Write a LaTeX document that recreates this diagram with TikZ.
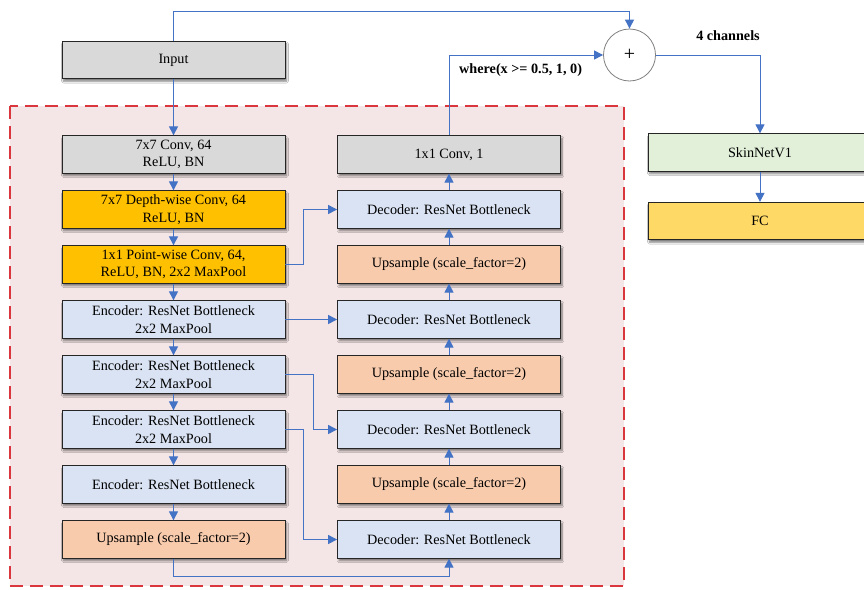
\documentclass[tikz,border=0pt]{standalone}
\usepackage{fontspec}
\setmainfont{Liberation Serif}
\usetikzlibrary{arrows.meta,shadows.blur}
\definecolor{boxgray}{HTML}{D9D9D9}
\definecolor{boxorange}{HTML}{FFC000}
\definecolor{boxblue}{HTML}{DAE3F3}
\definecolor{boxpeach}{HTML}{F8CBAD}
\definecolor{boxgreen}{HTML}{E2F0D9}
\definecolor{boxyellow}{HTML}{FFD966}
\definecolor{arrowblue}{HTML}{4472C4}
\definecolor{regionfill}{HTML}{F4E6E6}
\definecolor{regionred}{HTML}{D9363E}
\begin{document}
\begin{tikzpicture}[x=1pt,y=-1pt,
  blk/.style={draw=black!85,line width=0.8pt,minimum width=223pt,minimum height=37.5pt,
    align=center,inner sep=0pt,font=\fontsize{14.2pt}{17.6pt}\selectfont,
    blur shadow={shadow xshift=1.5pt,shadow yshift=-2.5pt,shadow blur steps=6,shadow opacity=50}},
  gbox/.style={blk,fill=boxgray},
  obox/.style={blk,fill=boxorange},
  bbox/.style={blk,fill=boxblue},
  pbox/.style={blk,fill=boxpeach},
  conn/.style={draw=arrowblue,line width=1pt,-{Triangle[length=9pt,width=9pt]}},
  lbl/.style={font=\fontsize{14.2pt}{17pt}\selectfont\bfseries,inner sep=0pt}
]
\clip (0,0) rectangle (864,589);
\fill[white] (0,0) rectangle (864,589);
% region
\draw[fill=regionfill,draw=regionred,line width=1.3pt,dash pattern=on 13pt off 7pt] (10,106) rectangle (624,586);

% left column
\node[gbox] (input) at (173.5,60) {Input};
\node[gbox] (conv7) at (173.5,154.5) {7x7 Conv, 64\\ReLU, BN};
\node[obox] (dw) at (173.5,209.5) {7x7 Depth-wise Conv, 64\\ReLU, BN};
\node[obox] (pw) at (173.5,264.5) {1x1 Point-wise Conv, 64,\\ReLU, BN, 2x2 MaxPool};
\node[bbox] (enc1) at (173.5,319.5) {Encoder: ResNet Bottleneck\\2x2 MaxPool};
\node[bbox] (enc2) at (173.5,374.5) {Encoder: ResNet Bottleneck\\2x2 MaxPool};
\node[bbox] (enc3) at (173.5,429.5) {Encoder: ResNet Bottleneck\\2x2 MaxPool};
\node[bbox] (enc4) at (173.5,484.5) {Encoder: ResNet Bottleneck};
\node[pbox] (upl) at (173.5,539.5) {Upsample (scale\_factor=2)};

% right column
\node[gbox] (conv1) at (449,154.5) {1x1 Conv, 1};
\node[bbox] (dec1) at (449,209.5) {Decoder: ResNet Bottleneck};
\node[pbox] (up1) at (449,264.5) {Upsample (scale\_factor=2)};
\node[bbox] (dec2) at (449,319.5) {Decoder: ResNet Bottleneck};
\node[pbox] (up2) at (449,374.5) {Upsample (scale\_factor=2)};
\node[bbox] (dec3) at (449,429.5) {Decoder: ResNet Bottleneck};
\node[pbox] (up3) at (449,484.5) {Upsample (scale\_factor=2)};
\node[bbox] (dec4) at (449,539.5) {Decoder: ResNet Bottleneck};

% far right
\node[circle,draw=black!50,fill=white,line width=0.8pt,minimum size=52pt,inner sep=0pt,font=\fontsize{20pt}{20pt}\selectfont] (plus) at (629.5,55) {+};
\node[blk,fill=boxgreen,minimum width=224pt] (skin) at (760,152.5) {SkinNetV1};
\node[blk,fill=boxyellow,minimum width=224pt] (fc) at (760,221) {FC};

% labels
\node[lbl,anchor=west] (where) at (459,70) {where(x >= 0.5, 1, 0)};
\node[lbl] (chan) at (728,36) {4 channels};

% left vertical arrows
\draw[conn] (input) -- (conv7);
\draw[conn] (conv7) -- (dw);
\draw[conn] (dw) -- (pw);
\draw[conn] (pw) -- (enc1);
\draw[conn] (enc1) -- (enc2);
\draw[conn] (enc2) -- (enc3);
\draw[conn] (enc3) -- (enc4);
\draw[conn] (enc4) -- (upl);

% right vertical arrows (upwards)
\draw[conn] (dec4) -- (up3);
\draw[conn] (up3) -- (dec3);
\draw[conn] (dec3) -- (up2);
\draw[conn] (up2) -- (dec2);
\draw[conn] (dec2) -- (up1);
\draw[conn] (up1) -- (dec1);
\draw[conn] (dec1) -- (conv1);

% skip connections
\draw[conn] (pw.east) -- ++(18,0) |- (dec1.west);
\draw[conn] (enc1.east) -- (dec2.west);
\draw[conn] (enc2.east) -- ++(28,0) |- (dec3.west);
\draw[conn] (enc3.east) -- ++(18,0) |- (dec4.west);
\draw[conn] (upl.south) -- ++(0,18) -| (dec4.south);

% top connections
\coordinate (topc) at (173.5,11);
\draw[conn] (input.north) -- (topc) -| (plus.north);
\draw[conn] (conv1.north) |- (plus.west);
\draw[conn] (plus.east) -| (skin.north);
\draw[conn] (skin) -- (fc);
\end{tikzpicture}
\end{document}
